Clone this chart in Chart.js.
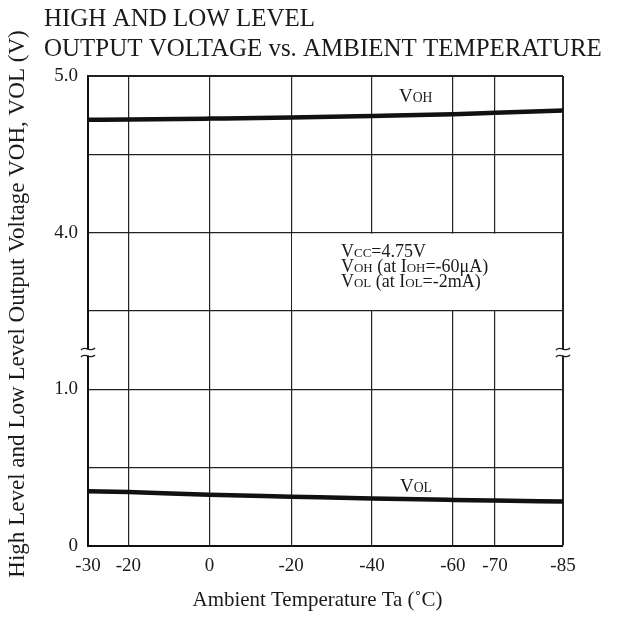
<!DOCTYPE html>
<html>
<head>
<meta charset="utf-8">
<script src="https://cdn.jsdelivr.net/npm/chart.js@4.4.0/dist/chart.umd.min.js"></script>
<style>
  html, body { margin: 0; padding: 0; background: #fff; }
  #wrap { width: 618px; height: 619px; }
</style>
</head>
<body>
<div id="wrap"><canvas id="chart" width="618" height="619"></canvas></div>
<script>
// data
const temps = [-30, -20, 0, 20, 40, 60, 70, 85];
const tempLabels = ["-30", "-20", "0", "-20", "-40", "-60", "-70", "-85"];
const vohValues = [4.72, 4.722, 4.728, 4.735, 4.745, 4.756, 4.765, 4.78];
const volValues = [0.35, 0.345, 0.327, 0.315, 0.303, 0.294, 0.29, 0.284];
const voltTicks = [0, 0.5, 1.0, 3.5, 4.0, 4.5, 5.0];
const voltLabels = ["0", "", "1.0", "", "4.0", "", "5.0"];

// the printed grid is not evenly spaced in temperature, and the volt axis is broken
const X_SLOTS = [0, 0.5, 1.5, 2.51, 3.51, 4.51, 5.03, 5.87];
const FONT = '"Liberation Serif", "DejaVu Serif", serif';
const INK = "#1a1a1a";

function piecewise(v, from, to) {
  for (let i = 0; i < from.length - 1; i++) {
    if (v <= from[i + 1] || i === from.length - 2) {
      const f = (v - from[i]) / (from[i + 1] - from[i]);
      return to[i] + f * (to[i + 1] - to[i]);
    }
  }
}
const tempToX = t => piecewise(t, temps, X_SLOTS);
const voltToY = v => piecewise(v, voltTicks, voltTicks.map((_, i) => i));

function series(values) {
  return temps.map((t, i) => ({ x: tempToX(t), y: voltToY(values[i]) }));
}

function drawRuns(ctx, runs, x, y, size) {
  let cx = x;
  runs.forEach(([txt, k]) => {
    ctx.font = `${size * k}px ${FONT}`;
    ctx.fillText(txt, cx, y);
    cx += ctx.measureText(txt).width;
  });
}

function fitSize(ctx, text, width) {
  ctx.font = `100px ${FONT}`;
  return 100 * width / ctx.measureText(text).width;
}

const decorations = {
  id: "decorations",
  beforeDatasetsDraw(chart) {
    const { ctx, chartArea: a, scales: { x, y } } = chart;
    // blank panel behind the test conditions
    const x0 = x.getPixelForValue(X_SLOTS[3]) + 1;
    const y0 = y.getPixelForValue(4) + 1;
    const y1 = y.getPixelForValue(3) - 1;
    ctx.save();
    ctx.fillStyle = "#fff";
    ctx.fillRect(x0, y0, a.right - 1.5 - x0, y1 - y0);
    ctx.restore();
  },
  afterDraw(chart) {
    const { ctx, chartArea: a, scales: { x, y } } = chart;
    ctx.save();
    ctx.fillStyle = INK;
    ctx.strokeStyle = INK;
    ctx.textBaseline = "alphabetic";
    ctx.textAlign = "left";

    // title
    const line2 = "OUTPUT VOLTAGE vs. AMBIENT TEMPERATURE";
    const ts = fitSize(ctx, line2, 558);
    ctx.font = `${ts}px ${FONT}`;
    ctx.fillText("HIGH AND LOW LEVEL", 44, 26);
    ctx.fillText(line2, 44, 56);

    // x axis title
    const xt = "Ambient Temperature Ta (˚C)";
    ctx.font = `${fitSize(ctx, xt, 250)}px ${FONT}`;
    ctx.textAlign = "center";
    ctx.fillText(xt, (a.left + a.right) / 2 - 8, 606);

    // y axis title
    const yt = "High Level and Low Level Output Voltage VOH, VOL (V)";
    ctx.font = `${fitSize(ctx, yt, 548)}px ${FONT}`;
    ctx.save();
    ctx.translate(24, 304);
    ctx.rotate(-Math.PI / 2);
    ctx.fillText(yt, 0, 0);
    ctx.restore();

    // curve labels
    ctx.textAlign = "left";
    drawRuns(ctx, [["V", 1], ["OH", 0.72]], 399, 102, 19);
    drawRuns(ctx, [["V", 1], ["OL", 0.72]], 400, 492, 19);

    // test conditions
    const nx = 341, ny = 257, lh = 15, ns = 18;
    drawRuns(ctx, [["V", 1], ["CC", 0.72], ["=4.75V", 1]], nx, ny, ns);
    drawRuns(ctx, [["V", 1], ["OH", 0.72], [" (at I", 1], ["OH", 0.72], ["=-60μA)", 1]], nx, ny + lh, ns);
    drawRuns(ctx, [["V", 1], ["OL", 0.72], [" (at I", 1], ["OL", 0.72], ["=-2mA)", 1]], nx, ny + 2 * lh, ns);

    // axis break marks
    const yb = y.getPixelForValue(2.47);
    [a.left, a.right].forEach(xa => {
      ctx.fillStyle = "#fff";
      ctx.fillRect(xa - 3, yb - 3, 6, 6);
      ctx.lineWidth = 1.3;
      [-3.5, 3.5].forEach(dy => {
        const yy = yb + dy;
        ctx.beginPath();
        ctx.moveTo(xa - 7, yy + 1);
        ctx.bezierCurveTo(xa - 3, yy - 4, xa + 3, yy + 4, xa + 7, yy - 1);
        ctx.stroke();
      });
    });
    ctx.restore();
  }
};

new Chart(document.getElementById("chart"), {
  type: "scatter",
  data: {
    datasets: [
      {
        label: "VOH",
        data: series(vohValues),
        showLine: true,
        borderColor: "#111",
        borderWidth: 4.5,
        pointRadius: 0,
        cubicInterpolationMode: "monotone",
      },
      {
        label: "VOL",
        data: series(volValues),
        showLine: true,
        borderColor: "#111",
        borderWidth: 4.5,
        pointRadius: 0,
        cubicInterpolationMode: "monotone",
      },
    ],
  },
  options: {
    responsive: false,
    animation: false,
    layout: { padding: { top: 76, right: 55, left: 0, bottom: 0 } },
    plugins: { legend: { display: false }, tooltip: { enabled: false }, title: { display: false } },
    scales: {
      x: {
        type: "linear",
        min: 0,
        max: X_SLOTS[X_SLOTS.length - 1],
        afterBuildTicks: s => { s.ticks = X_SLOTS.map(v => ({ value: v })); },
        afterFit: s => { s.height = 73; },
        grid: {
          color: "#222",
          lineWidth: c => (c.index === X_SLOTS.length - 1 ? 2 : 1.2),
          drawTicks: false,
        },
        border: { display: true, color: "#111", width: 2 },
        ticks: {
          autoSkip: false,
          maxRotation: 0,
          padding: 9,
          color: INK,
          font: { family: FONT, size: 19 },
          callback: (v, i) => tempLabels[i],
        },
      },
      y: {
        type: "linear",
        min: 0,
        max: voltTicks.length - 1,
        afterBuildTicks: s => { s.ticks = voltTicks.map((_, i) => ({ value: i })); },
        afterFit: s => { s.width = 88; },
        grid: {
          color: "#222",
          lineWidth: c => (c.index === voltTicks.length - 1 ? 2 : 1.2),
          drawTicks: false,
        },
        border: { display: true, color: "#111", width: 2 },
        ticks: {
          autoSkip: false,
          padding: 10,
          color: INK,
          font: { family: FONT, size: 19 },
          callback: (v, i) => voltLabels[i],
        },
      },
    },
  },
  plugins: [decorations],
});
</script>
</body>
</html>
